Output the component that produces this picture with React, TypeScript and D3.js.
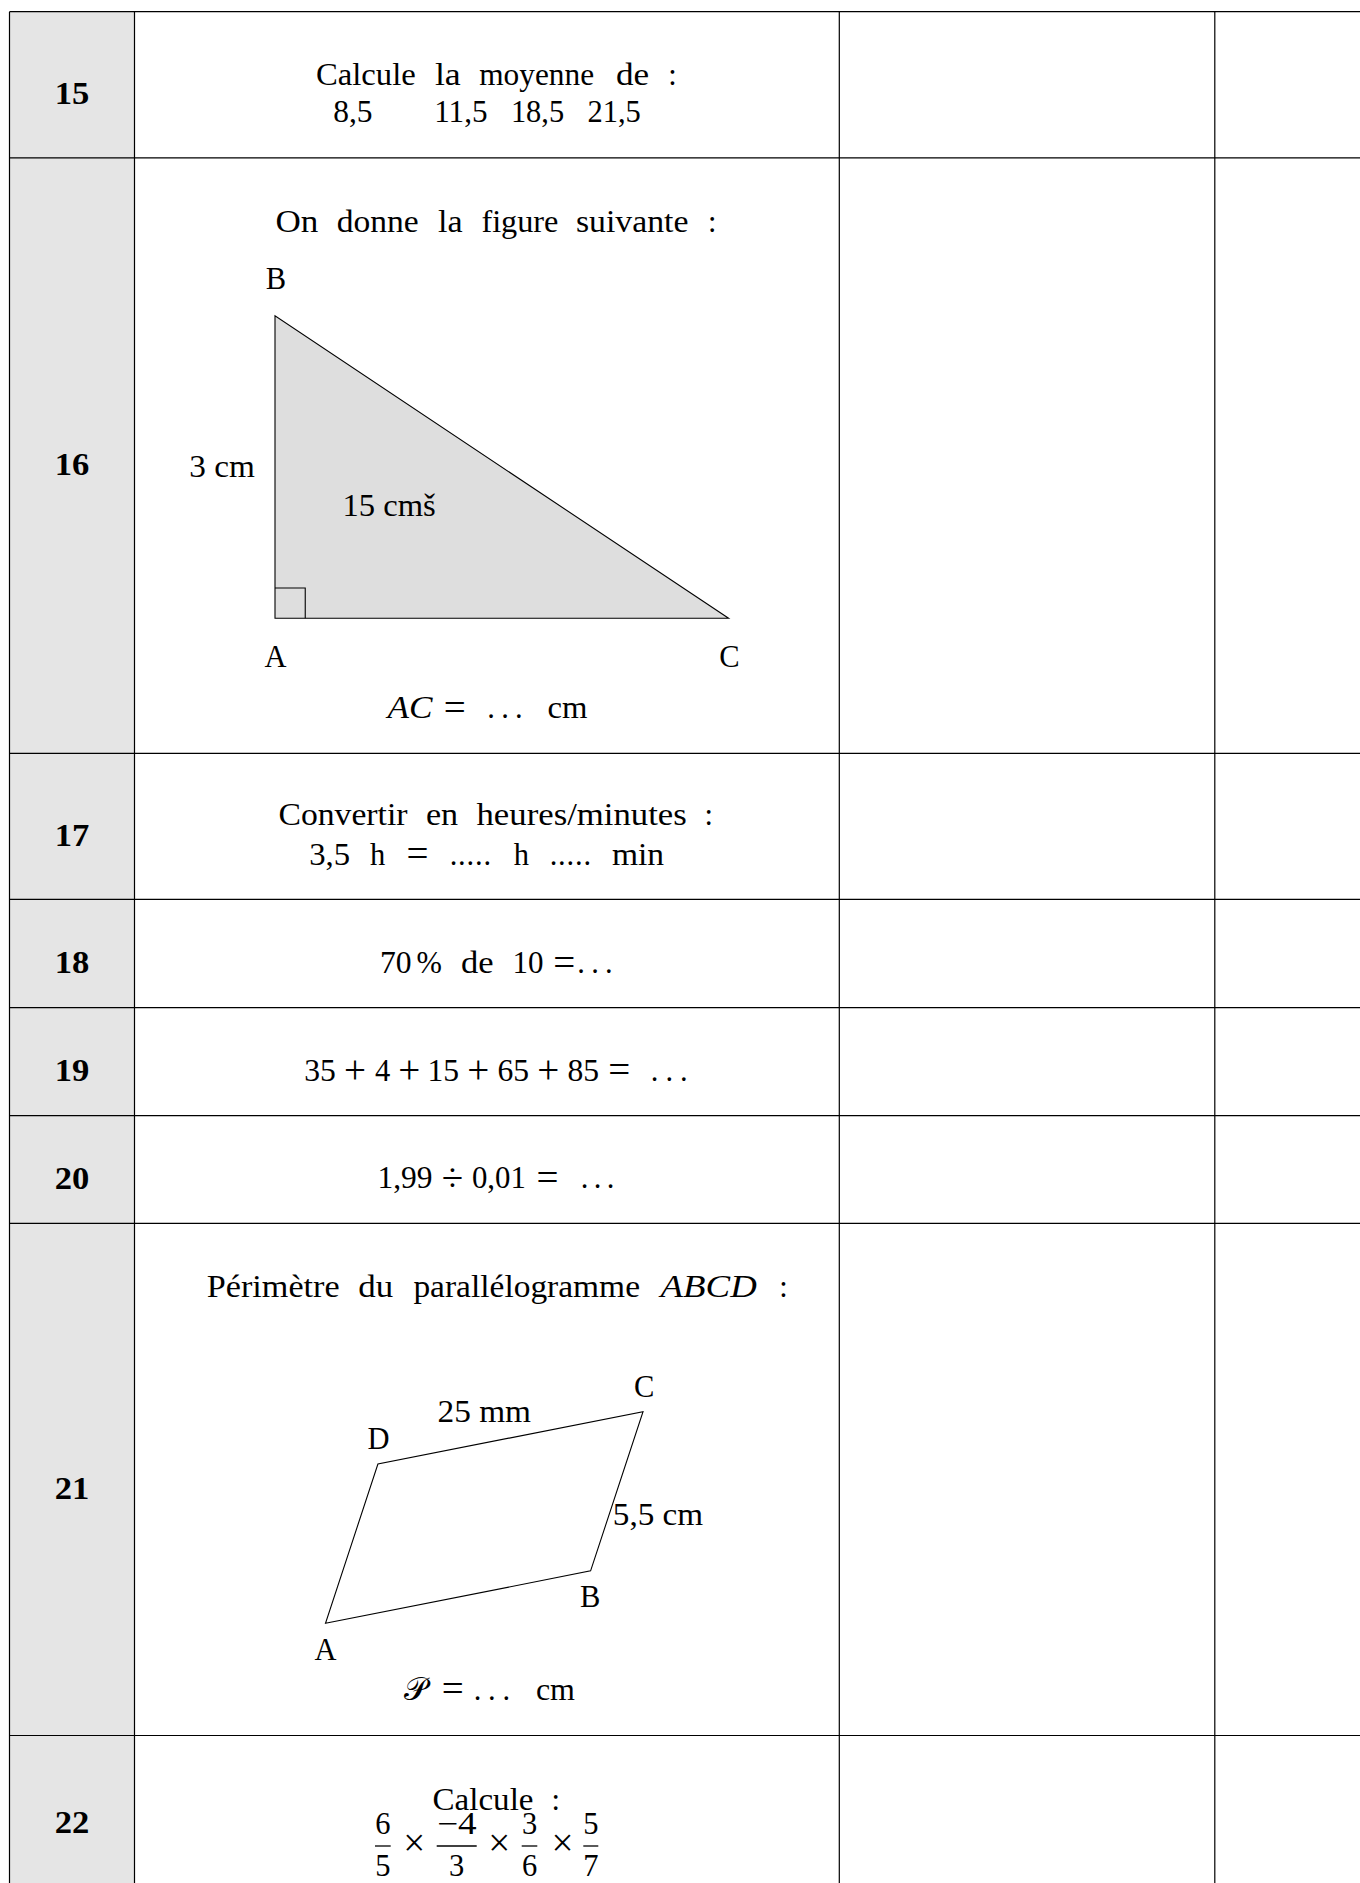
import React from "react";
import * as d3 from "d3";

// ---------- content ----------
const ROW_IDS = ["15", "16", "17", "18", "19", "20", "21", "22"];

const Q15_L1 = ["Calcule", "la", "moyenne", "de", ":"];
const Q15_L2 = ["8,5", "11,5", "18,5", "21,5"];

const Q16_L1 = ["On", "donne", "la", "figure", "suivante", ":"];
const Q16_POINTS = ["A", "B", "C"];
const Q16_SIDE = "3 cm";
const Q16_AREA = "15 cmš";
const Q16_ANSWER = ["AC", "=", "...", "cm"];
// triangle in cm (figure units): A, B, C
const TRI_X = [0, 0, 4.5];
const TRI_Y = [0, 3, 0];
const RIGHT_ANGLE = 0.3;

const Q17_L1 = ["Convertir", "en", "heures/minutes", ":"];
const Q17_L2 = ["3,5", "h", "=", ".....", "h", ".....", "min"];

const Q18 = ["70", "%", "de", "10", "=", "..."];
const Q19 = ["35", "+", "4", "+", "15", "+", "65", "+", "85", "=", "..."];
const Q20 = ["1,99", "÷", "0,01", "=", "..."];

const Q21_L1 = ["Périmètre", "du", "parallélogramme", "ABCD", ":"];
const PARA_NAMES = ["A", "B", "C", "D"];
// parallelogram in cm (figure units)
const PARA_X = [0, 2.63, 3.15, 0.52];
const PARA_Y = [0, 0.52, 2.1, 1.58];
const Q21_SIDE_TOP = "25 mm";
const Q21_SIDE_RIGHT = "5,5 cm";
const Q21_ANSWER = ["𝒫", "=", "...", "cm"];

const Q22_TITLE = ["Calcule", ":"];
const FRAC_NUM = ["6", "−4", "3", "5"];
const FRAC_DEN = ["5", "3", "6", "7"];
const TIMES = "×";

const OPERATORS = ["+", "=", "×", "÷"];

// ---------- layout ----------
const W = 1360;
const H = 1883;
const ROW_EDGES = [11.7, 157.8, 753.3, 899.3, 1007.7, 1115.7, 1223.3, 1735.5, 1960];
const COL_EDGES = [9.5, 134.5, 839.3, 1214.8, 1420];
const LABEL_Y = [103.5, 475, 845.5, 973, 1081, 1188.5, 1499, 1833];
const FONT = "'Liberation Serif', 'Times New Roman', serif";
const FS = 30.5;
const OP_FS = 39;
const OP_DY = 2.2;

const L_Q15_1 = [[316.7, 415], [435.7, 460], [480, 593.3], [616.7, 648.3], [670, 675]];
const L_Q15_2 = [[334, 371.7], [435, 486.7], [511.7, 563.3], [588.3, 640]];
const L_Q16_1 = [[276.3, 317.6], [337.5, 417.9], [438.9, 461.9], [482.2, 557.6], [576.7, 687.7], [709.9, 714.5]];
const L_Q16_ANS = [[388.3, 431.7], [443.3, 466], [488.3, 521.7], [548.3, 586.7]];
const L_Q17_1 = [[279.3, 406.7], [426.7, 457.3], [477.3, 686], [706, 711.7]];
const L_Q17_2 = [[310, 349.3], [369.3, 386], [406.7, 428.3], [450.7, 490], [513.3, 529.3], [550.7, 590], [612.7, 663.3]];
const L_Q18 = [[380.7, 410.7], [416.7, 441.7], [461.7, 492.7], [513.3, 542.7], [553.3, 575], [578.3, 611.7]];
const L_Q19 = [[305, 335], [345, 365], [375, 390], [399.2, 419.2], [428.3, 458.3], [468.3, 488.3], [498.3, 528.3], [538.3, 558.3], [568.3, 598.3], [608.3, 630], [651.7, 686.7]];
const L_Q20 = [[378.3, 431.7], [440, 465], [472.7, 525], [536.7, 558.3], [581.7, 613.3]];
const L_Q21_1 = [[207.6, 338.8], [359.1, 392.4], [414.2, 639.2], [661.4, 756], [781, 786]];
const L_Q21_ANS = [[400, 430.7], [440.2, 465.1], [474.7, 509.1], [536.7, 574.2]];
const L_Q22_T = [[433.3, 532.7], [553.3, 558.3]];
const L_FRAC = [[375, 390.7], [436.7, 476.7], [521.7, 537.3], [583.3, 598.3]];
const L_TIMES = [414.2, 499.2, 562.5];

type TokProps = { s: string; x0: number; x1: number; y: number; bold?: boolean; italic?: boolean; size?: number };

function Tok({ s, x0, x1, y, bold, italic, size }: TokProps) {
  const n = Array.from(s).length;
  const isOp = OPERATORS.includes(s);
  const common = {
    y: isOp ? y + OP_DY : y,
    fontFamily: FONT,
    fontSize: size ?? (isOp ? OP_FS : FS),
    fontWeight: bold ? 700 : 400,
    fontStyle: italic ? "italic" : "normal",
    fill: "#000",
  } as any;
  const dots = /^\.{2,}$/.test(s);
  if (dots) {
    return (
      <text {...common} x={x0 - 1} textLength={x1 - x0 + 2} lengthAdjust="spacing">
        {s}
      </text>
    );
  }
  if (n <= 1) {
    return (
      <text {...common} x={(x0 + x1) / 2} textAnchor="middle">
        {s}
      </text>
    );
  }
  return (
    <text {...common} x={x0 - 0.8} textLength={x1 - x0 + 1.6} lengthAdjust="spacingAndGlyphs">
      {s}
    </text>
  );
}

function Line({ words, xs, y, italicIdx = [] as number[] }: { words: string[]; xs: number[][]; y: number; italicIdx?: number[] }) {
  return (
    <g>
      {words.map((w, i) => (
        <Tok key={i} s={w} x0={xs[i][0]} x1={xs[i][1]} y={y} italic={italicIdx.includes(i)} />
      ))}
    </g>
  );
}

export default function App() {
  // triangle scales (cm -> px)
  const tx = d3.scaleLinear().domain([0, 1]).range([275, 275 + 100.8]);
  const ty = d3.scaleLinear().domain([0, 1]).range([618.3, 618.3 - 100.8]);
  const triPts: [number, number][] = TRI_X.map((x, i) => [tx(x), ty(TRI_Y[i])]);
  const triPath = d3.line()(triPts) + "Z";
  const sq = d3.line()([
    [tx(0), ty(RIGHT_ANGLE)],
    [tx(RIGHT_ANGLE), ty(RIGHT_ANGLE)],
    [tx(RIGHT_ANGLE), ty(0)],
  ]);

  // parallelogram scales
  const px = d3.scaleLinear().domain([0, 1]).range([325.5, 325.5 + 100.8]);
  const py = d3.scaleLinear().domain([0, 1]).range([1623.3, 1623.3 - 100.8]);
  const paraPts: [number, number][] = PARA_X.map((x, i) => [px(x), py(PARA_Y[i])]);
  const paraPath = d3.line()(paraPts) + "Z";

  const stroke = "#000";
  const sw = 1.2;

  return (
    <svg
      width={W}
      height={H}
      viewBox={`0 0 ${W} ${H}`}
      style={{ position: "absolute", left: 0, top: 0, background: "#fff" }}
    >
      <rect x={0} y={0} width={W} height={H} fill="#fff" />
      {/* shaded number column */}
      <rect
        x={COL_EDGES[0]}
        y={ROW_EDGES[0]}
        width={COL_EDGES[1] - COL_EDGES[0]}
        height={ROW_EDGES[ROW_EDGES.length - 1] - ROW_EDGES[0]}
        fill="#e5e5e5"
      />
      {/* grid */}
      {ROW_EDGES.slice(0, -1).map((y, i) => (
        <line key={"h" + i} x1={COL_EDGES[0]} x2={COL_EDGES[COL_EDGES.length - 1]} y1={y} y2={y} stroke={stroke} strokeWidth={sw} />
      ))}
      {COL_EDGES.slice(0, -1).map((x, i) => (
        <line key={"v" + i} x1={x} x2={x} y1={ROW_EDGES[0]} y2={ROW_EDGES[ROW_EDGES.length - 1]} stroke={stroke} strokeWidth={sw} />
      ))}

      {/* row numbers */}
      {ROW_IDS.map((id, i) => (
        <Tok key={id} s={id} x0={55.5} x1={88.5} y={LABEL_Y[i]} bold />
      ))}

      {/* 15 */}
      <Line words={Q15_L1} xs={L_Q15_1} y={85} />
      <Line words={Q15_L2} xs={L_Q15_2} y={121.7} />

      {/* 16 */}
      <Line words={Q16_L1} xs={L_Q16_1} y={232} />
      <path d={triPath} fill="#dedede" stroke="#000" strokeWidth={1.1} />
      <path d={sq ?? ""} fill="none" stroke="#000" strokeWidth={1.1} />
      <Tok s={Q16_POINTS[1]} x0={266} x1={286} y={289.3} />
      <Tok s={Q16_POINTS[0]} x0={265} x1={286} y={666.7} />
      <Tok s={Q16_POINTS[2]} x0={718.5} x1={740.5} y={666.7} />
      <Tok s={Q16_SIDE} x0={190} x1={254} y={476.7} />
      <Tok s={Q16_AREA} x0={343.3} x1={435} y={516} />
      <Line words={Q16_ANSWER} xs={L_Q16_ANS} y={718.3} italicIdx={[0]} />

      {/* 17 */}
      <Line words={Q17_L1} xs={L_Q17_1} y={825} />
      <Line words={Q17_L2} xs={L_Q17_2} y={865} />

      {/* 18 */}
      <Line words={Q18} xs={L_Q18} y={973.3} />
      {/* 19 */}
      <Line words={Q19} xs={L_Q19} y={1081} />
      {/* 20 */}
      <Line words={Q20} xs={L_Q20} y={1188.3} />

      {/* 21 */}
      <Line words={Q21_L1} xs={L_Q21_1} y={1297} italicIdx={[3]} />
      <path d={paraPath} fill="none" stroke="#000" strokeWidth={1.1} />
      <Tok s={PARA_NAMES[2]} x0={633.5} x1={654.6} y={1396.7} />
      <Tok s={Q21_SIDE_TOP} x0={438.3} x1={530.2} y={1421.7} />
      <Tok s={PARA_NAMES[3]} x0={367.5} x1={389.7} y={1449} />
      <Tok s={Q21_SIDE_RIGHT} x0={613.6} x1={702.4} y={1525} />
      <Tok s={PARA_NAMES[1]} x0={580} x1={600.2} y={1607.3} />
      <Tok s={PARA_NAMES[0]} x0={314} x1={337} y={1660} />
      <Tok s={Q21_ANSWER[0]} x0={400} x1={430.7} y={1700} size={32} />
      <Tok s={Q21_ANSWER[1]} x0={L_Q21_ANS[1][0]} x1={L_Q21_ANS[1][1]} y={1700} />
      <Tok s={Q21_ANSWER[2]} x0={L_Q21_ANS[2][0]} x1={L_Q21_ANS[2][1]} y={1700} />
      <Tok s={Q21_ANSWER[3]} x0={L_Q21_ANS[3][0]} x1={L_Q21_ANS[3][1]} y={1700} />

      {/* 22 */}
      <Line words={Q22_TITLE} xs={L_Q22_T} y={1810} />
      {FRAC_NUM.map((n, i) => {
        const [a, b] = L_FRAC[i];
        return (
          <g key={"f" + i}>
            <line x1={a} x2={b} y1={1846} y2={1846} stroke="#000" strokeWidth={1.3} />
            <Tok s={n} x0={a + 1} x1={b - 1} y={1834} />
            <Tok s={FRAC_DEN[i]} x0={a} x1={b} y={1876} />
          </g>
        );
      })}
      {L_TIMES.map((x, i) => (
        <Tok key={"t" + i} s={TIMES} x0={x - 9} x1={x + 9} y={1854} />
      ))}
    </svg>
  );
}
